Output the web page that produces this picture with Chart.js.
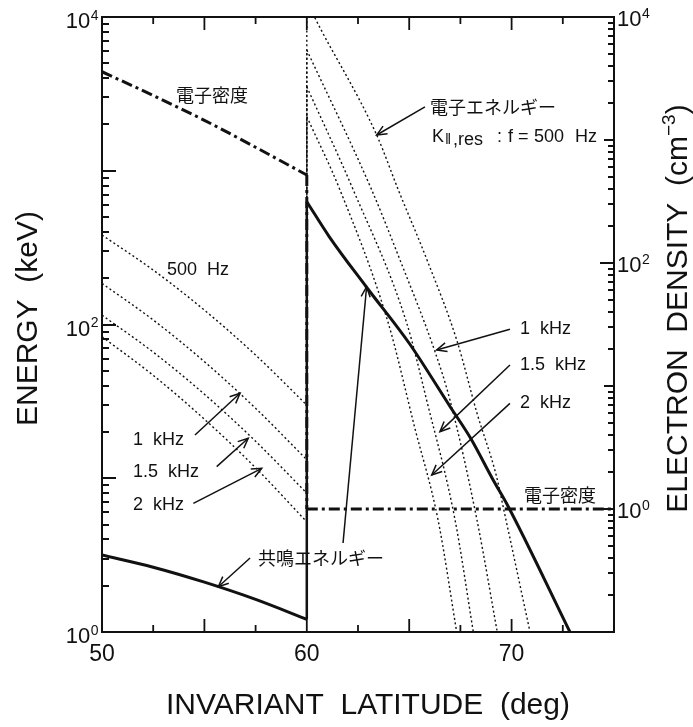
<!DOCTYPE html>
<html>
<head>
<meta charset="utf-8">
<title>Resonance energy vs invariant latitude</title>
<script src="https://cdn.jsdelivr.net/npm/chart.js@4.4.1/dist/chart.umd.min.js"></script>
<style>
  html, body { margin: 0; padding: 0; background: #ffffff; }
  #wrap { width: 693px; height: 727px; }
</style>
</head>
<body>
<div id="wrap"><canvas id="chart" width="693" height="727"></canvas></div>
<script>
// ---- data: invariant latitude (deg) vs energy (keV) / electron density (cm^-3) ----

// 50–60 deg segment (plasmasphere side)
const latLow = [50, 52.5, 55, 57.5, 60];
const kres500Low = [382, 226, 124, 63.3, 29.9];
const kres1kLow = [185, 107, 57.3, 28.5, 13.2];
const kres15kLow = [115, 66.1, 35.2, 17.4, 8.0];
const kres2kLow = [83.3, 46.7, 24.2, 11.7, 5.2];
const resLow = [3.17, 2.64, 2.11, 1.63, 1.21];
const densLow = [3590, 2300, 1445, 873, 519];

// 60–75 deg segment (outside the plasmapause)
const lat500High = [60, 60.4, 63.41, 64.47, 65.87, 67.32, 68.31, 69.27, 69.59, 70.9];
const kres500High = [12700, 9850, 1710, 750, 263, 79.3, 26.5, 10.2, 6.5, 1.0];
const lat1kHigh = [60, 63.17, 64.55, 66.26, 66.99, 68.31, 69.3];
const kres1kHigh = [6100, 750, 263, 66.5, 32.3, 5.35, 1.0];
const lat15kHigh = [60, 62.27, 64.88, 65.85, 67.24, 68.13];
const kres15kHigh = [3520, 750, 102, 32.3, 5.35, 1.0];
const lat2kHigh = [60, 61.62, 63.98, 65.26, 66.41, 67.32];
const kres2kHigh = [2250, 750, 102, 21.6, 5.35, 1.0];
const latResHigh = [60, 61.1, 62.9, 65.0, 67.0, 68.0, 69.1, 69.84, 72.85];
const resHigh = [629, 372, 176, 75.5, 29.2, 18.2, 9.74, 6.53, 1.0];
const latDensHigh = [60, 75];
const densHigh = [1, 1];

// axis ticks and titles
const latTicks = [50, 60, 70];
const energyTickExp = [0, 2, 4];
const densityTickExp = [0, 2, 4];
const xTitle = 'INVARIANT  LATITUDE  (deg)';
const yTitle = 'ENERGY  (keV)';
const y2Title = 'ELECTRON  DENSITY  (cm';

// text labels and pointer arrows, placed in (latitude, keV) coordinates
const notes = [
  { text: '電子密度', at: [55.37, 3110], align: 'center', cjk: true },
  { text: '電子エネルギー', at: [66.02, 2600], cjk: true },
  { text: '500  Hz', at: [53.17, 226] },
  { text: '1  kHz', at: [51.51, 17.7] },
  { text: '1.5  kHz', at: [51.51, 11.0] },
  { text: '2  kHz', at: [51.51, 6.70] },
  { text: '共鳴エネルギー', at: [57.62, 3.03], cjk: true },
  { text: '1  kHz', at: [70.41, 93.0] },
  { text: '1.5  kHz', at: [70.41, 54.5] },
  { text: '2  kHz', at: [70.41, 30.7] },
  { text: '電子密度', at: [72.36, 7.78], align: 'center', cjk: true }
];
const kresNoteAt = [66.11, 1657];
const pointers = [
  { from: [65.77, 2600], to: [63.41, 1708] },
  { from: [54.54, 19.1], to: [56.74, 35.7] },
  { from: [55.60, 11.9], to: [57.14, 18.2] },
  { from: [54.46, 6.87], to: [57.80, 11.6] },
  { from: [57.23, 3.03], to: [55.68, 1.97] },
  { from: [61.77, 3.79], to: [62.92, 176] },
  { from: [69.92, 93.0], to: [66.34, 68.3] },
  { from: [69.92, 54.5], to: [66.50, 20.1] },
  { from: [69.92, 30.7], to: [66.10, 10.5] }
];

// ---- styling ----
const ink = '#111111';
const latinFont = "'Liberation Sans', Arial, Helvetica, sans-serif";
const cjkFont = "'Noto Sans CJK JP', 'Noto Sans CJK SC', sans-serif";
const dotted = { borderColor: ink, borderWidth: 1.4, borderDash: [2, 2.6] };
const solid = { borderColor: ink, borderWidth: 3 };
const dashDot = { borderColor: ink, borderWidth: 3, borderDash: [11, 4, 3, 4] };

function pts(xs, ys) { return xs.map((x, i) => ({ x: x, y: ys[i] })); }

function curve(xs, ys, style, axis) {
  return Object.assign({
    data: pts(xs, ys), yAxisID: axis || 'y', pointRadius: 0,
    cubicInterpolationMode: 'monotone', fill: false, clip: 0
  }, style);
}
function jump(lowVals, highVals, style, axis) {
  return Object.assign({
    data: [{ x: 60, y: lowVals[lowVals.length - 1] }, { x: 60, y: highVals[0] }],
    yAxisID: axis || 'y', pointRadius: 0, tension: 0, fill: false, clip: 0
  }, style);
}

const datasets = [
  curve(latLow, resLow, solid), jump(resLow, resHigh, Object.assign({}, solid, { borderWidth: 2.5 })), curve(latResHigh, resHigh, solid),
  curve(latLow, densLow, dashDot, 'y2'), jump(densLow, densHigh, dashDot, 'y2'), curve(latDensHigh, densHigh, dashDot, 'y2'),
  curve(latLow, kres500Low, dotted), jump(kres500Low, kres500High, dotted), curve(lat500High, kres500High, dotted),
  curve(latLow, kres1kLow, dotted), jump(kres1kLow, kres1kHigh, dotted), curve(lat1kHigh, kres1kHigh, dotted),
  curve(latLow, kres15kLow, dotted), jump(kres15kLow, kres15kHigh, dotted), curve(lat15kHigh, kres15kHigh, dotted),
  curve(latLow, kres2kLow, dotted), jump(kres2kLow, kres2kHigh, dotted), curve(lat2kHigh, kres2kHigh, dotted)
];

function seg(ctx, x1, y1, x2, y2) {
  ctx.beginPath(); ctx.moveTo(x1, y1); ctx.lineTo(x2, y2); ctx.stroke();
}

// horizontal tick mark as a filled bar
function hTick(ctx, x0, py, len) {
  const xa = Math.min(x0, x0 + len);
  ctx.fillRect(xa, Math.round(py) - 1, Math.abs(len), 2);
}

function arrow(ctx, x1, y1, x2, y2) {
  seg(ctx, x1, y1, x2, y2);
  const ang = Math.atan2(y2 - y1, x2 - x1);
  const L = 11, spread = 0.42;
  ctx.beginPath();
  ctx.moveTo(x2 - L * Math.cos(ang - spread), y2 - L * Math.sin(ang - spread));
  ctx.lineTo(x2, y2);
  ctx.lineTo(x2 - L * Math.cos(ang + spread), y2 - L * Math.sin(ang + spread));
  ctx.stroke();
}

// "10" with a raised exponent
function powerLabel(ctx, px, py, exp, side) {
  ctx.font = '22px ' + latinFont;
  const w10 = ctx.measureText('10').width;
  ctx.font = '14px ' + latinFont;
  const we = ctx.measureText(String(exp)).width;
  const x0 = side === 'left' ? px - 4 - w10 - we : px + 3;
  const dy = side === 'left' ? 5 : 3;
  ctx.textAlign = 'left';
  ctx.textBaseline = 'middle';
  ctx.font = '22px ' + latinFont;
  ctx.fillText('10', x0, py + dy);
  ctx.font = '14px ' + latinFont;
  ctx.fillText(String(exp), x0 + w10 + 0.5, py + dy - 6);
}

// frame, inward tick marks, tick labels and axis titles
const axesDecor = {
  id: 'axesDecor',
  afterDatasetsDraw(chart) {
    const { ctx, chartArea: a, scales } = chart;
    const x = scales.x, y = scales.y, y2 = scales.y2;
    ctx.save();
    ctx.strokeStyle = ink;
    ctx.fillStyle = ink;
    ctx.lineWidth = 2;
    ctx.strokeRect(a.left, a.top, a.right - a.left, a.bottom - a.top);

    ctx.lineWidth = 1.8;
    for (let v = x.min; v <= x.max + 1e-9; v += 2.5) {
      const px = x.getPixelForValue(v);
      const len = Math.abs(v % 5) < 1e-9 ? 13 : 7;
      seg(ctx, px, a.bottom, px, a.bottom - len);
      seg(ctx, px, a.top, px, a.top + len);
    }
    // energy axis: decades and 2..9 marks
    for (let e = 0; e <= 4; e++) {
      for (let m = 1; m <= 9; m++) {
        const v = m * Math.pow(10, e);
        if (v > y.max) break;
        hTick(ctx, a.left, y.getPixelForValue(v), m === 1 ? 14 : 7);
      }
    }
    // density axis
    for (let e = -1; e <= 4; e++) {
      for (let m = 1; m <= 9; m++) {
        const v = m * Math.pow(10, e);
        if (v > y2.max) break;
        const len = m === 1 ? (densityTickExp.includes(e) ? 14 : 10) : 6;
        hTick(ctx, a.right, y2.getPixelForValue(v), -len);
      }
    }

    // tick labels
    ctx.textAlign = 'center';
    ctx.textBaseline = 'middle';
    ctx.font = '23px ' + latinFont;
    latTicks.forEach(v => ctx.fillText(String(v), x.getPixelForValue(v), a.bottom + 23));
    energyTickExp.forEach(e => powerLabel(ctx, a.left, y.getPixelForValue(Math.pow(10, e)), e, 'left'));
    densityTickExp.forEach(e => powerLabel(ctx, a.right, y2.getPixelForValue(Math.pow(10, e)), e, 'right'));

    // axis titles
    ctx.font = '30px ' + latinFont;
    ctx.textAlign = 'center';
    ctx.textBaseline = 'middle';
    ctx.fillText(xTitle, (a.left + a.right) / 2 + 10, a.bottom + 74);

    ctx.save();
    ctx.translate(29, (a.top + a.bottom) / 2 - 6);
    ctx.rotate(-Math.PI / 2);
    ctx.fillText(yTitle, 0, 0);
    ctx.restore();

    ctx.save();
    ctx.font = '30px ' + latinFont;
    const wMain = ctx.measureText(y2Title).width;
    const wClose = ctx.measureText(')').width;
    ctx.font = '19px ' + latinFont;
    const wSup = ctx.measureText('\u22123').width;
    const total = wMain + wSup + wClose;
    ctx.translate(679, (a.top + a.bottom) / 2 - 16);
    ctx.rotate(-Math.PI / 2);
    ctx.textAlign = 'left';
    ctx.font = '30px ' + latinFont;
    ctx.fillText(y2Title, -total / 2, 0);
    ctx.font = '19px ' + latinFont;
    ctx.fillText('\u22123', -total / 2 + wMain, -9);
    ctx.font = '30px ' + latinFont;
    ctx.fillText(')', -total / 2 + wMain + wSup, 0);
    ctx.restore();

    ctx.restore();
  }
};

// in-plot labels and pointer arrows
const annotations = {
  id: 'annotations',
  afterDatasetsDraw(chart) {
    const { ctx, scales } = chart;
    const P = (p) => [scales.x.getPixelForValue(p[0]), scales.y.getPixelForValue(p[1])];
    ctx.save();
    ctx.fillStyle = ink;
    ctx.strokeStyle = ink;
    ctx.lineWidth = 1.5;
    ctx.textBaseline = 'middle';
    notes.forEach(n => {
      const [px, py] = P(n.at);
      ctx.font = n.cjk ? '18px ' + cjkFont : '18px ' + latinFont;
      ctx.textAlign = n.align || 'left';
      ctx.fillText(n.text, px, py);
    });
    pointers.forEach(p => {
      const [x1, y1] = P(p.from);
      const [x2, y2] = P(p.to);
      arrow(ctx, x1, y1, x2, y2);
    });

    // K||,res : f = 500 Hz
    const [kx, ky] = P(kresNoteAt);
    ctx.textAlign = 'left';
    ctx.font = '18px ' + latinFont;
    ctx.fillText('K', kx, ky);
    ctx.font = '15px ' + latinFont;
    ctx.fillText('\u2016', kx + 13, ky + 3);
    ctx.font = '18px ' + latinFont;
    ctx.fillText(',res', kx + 21, ky + 3);
    ctx.fillText(':', kx + 65, ky);
    ctx.fillText('f', kx + 76, ky);
    ctx.fillText('=', kx + 86, ky);
    ctx.fillText('500', kx + 102, ky);
    ctx.fillText('Hz', kx + 143, ky);
    ctx.restore();
  }
};

new Chart(document.getElementById('chart'), {
  type: 'line',
  data: { datasets: datasets },
  options: {
    responsive: false,
    animation: false,
    devicePixelRatio: 1,
    layout: { padding: { left: 102, right: 79, top: 17, bottom: 95 } },
    plugins: { legend: { display: false }, tooltip: { enabled: false } },
    elements: { point: { radius: 0 } },
    scales: {
      x: { type: 'linear', min: 50, max: 75, display: false },
      y: { type: 'logarithmic', min: 1, max: 10000, display: false },
      y2: { type: 'logarithmic', position: 'right', min: 0.1, max: 10000, display: false }
    }
  },
  plugins: [axesDecor, annotations]
});
</script>
</body>
</html>
